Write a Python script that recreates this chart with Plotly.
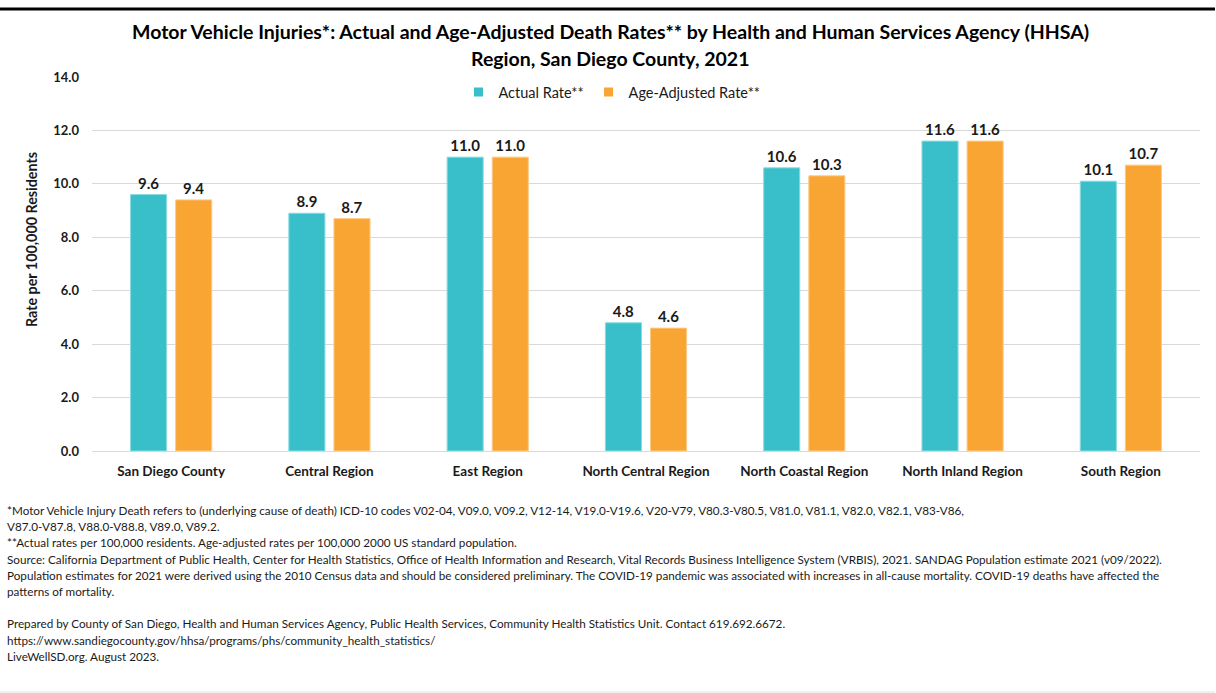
import plotly.graph_objects as go

# Regions and rates (per 100,000)
regions = ["San Diego County", "Central Region", "East Region", "North Central Region",
           "North Coastal Region", "North Inland Region", "South Region"]
actual_rate = [9.6, 8.9, 11.0, 4.8, 10.6, 11.6, 10.1]
age_adjusted_rate = [9.4, 8.7, 11.0, 4.6, 10.3, 11.6, 10.7]
y_ticks = [0, 2, 4, 6, 8, 10, 12, 14]
series_names = ["Actual Rate**", "Age-Adjusted Rate**"]

title_lines = [
    "Motor Vehicle Injuries*: Actual and Age-Adjusted Death Rates** by Health and Human Services Agency (HHSA)",
    "Region, San Diego County, 2021",
]
footnotes = [
    "*Motor Vehicle Injury Death refers to (underlying cause of death) ICD-10 codes V02-04, V09.0, V09.2, V12-14, V19.0-V19.6, V20-V79, V80.3-V80.5, V81.0, V81.1, V82.0, V82.1, V83-V86,",
    "V87.0-V87.8, V88.0-V88.8, V89.0, V89.2.",
    "**Actual rates per 100,000 residents. Age-adjusted rates per 100,000 2000 US standard population.",
    "Source: California Department of Public Health, Center for Health Statistics, Office of Health Information and Research, Vital Records Business Intelligence System (VRBIS), 2021. SANDAG Population estimate 2021 (v09/2022).",
    "Population estimates for 2021 were derived using the 2010 Census data and should be considered preliminary. The COVID-19 pandemic was associated with increases in all-cause mortality. COVID-19 deaths have affected the",
    "patterns of mortality.",
    "",
    "Prepared by County of San Diego, Health and Human Services Agency, Public Health Services, Community Health Statistics Unit. Contact 619.692.6672.",
    "https://www.sandiegocounty.gov/hhsa/programs/phs/community_health_statistics/",
    "LiveWellSD.org. August 2023.",
]

W, H = 1216, 693
L, R, T, B = 92, 16, 77, 242
PW, PH = W - L - R, H - T - B
FONT = "Lato, 'Open Sans', sans-serif"
TEAL = "#38BFC9"
ORANGE = "#F9A533"
TEXT = "#1a1a1a"


def px(x):
    return (x - L) / PW


def py(y):
    return (H - B - y) / PH


fig = go.Figure()
for name, values, color, edge in [
    (series_names[0], actual_rate, TEAL, "#8ADBE0"),
    (series_names[1], age_adjusted_rate, ORANGE, "#FCCB87"),
]:
    fig.add_trace(go.Bar(
        name=name, x=regions, y=values, showlegend=False,
        marker=dict(color=color, line=dict(color=edge, width=1)),
        texttemplate="%{y:.1f}", textposition="outside",
        textfont=dict(family=FONT, size=15, color=TEXT, weight="bold"),
        cliponaxis=False,
    ))

# Square legend swatches
for name, color in zip(series_names, [TEAL, ORANGE]):
    fig.add_trace(go.Scatter(
        name=name, x=[None], y=[None], mode="markers",
        marker=dict(symbol="square", size=9, color=color),
    ))

annotations = []
for i, line in enumerate(title_lines):
    annotations.append(dict(
        text="<b>" + line + "</b>", x=px(610), y=py(32 + 26 * i), xref="paper", yref="paper",
        xanchor="center", yanchor="middle", showarrow=False,
        font=dict(family=FONT, size=19.5, color="#000000"),
    ))
annotations.append(dict(
    text="<b>Rate per 100,000 Residents</b>", x=px(31), y=py(240), xref="paper", yref="paper",
    xanchor="center", yanchor="middle", textangle=-90, showarrow=False,
    font=dict(family=FONT, size=14.3, color=TEXT),
))
for i, line in enumerate(footnotes):
    if not line:
        continue
    annotations.append(dict(
        text=line, x=px(5), y=py(510 + 16.2 * i), xref="paper", yref="paper",
        xanchor="left", yanchor="middle", showarrow=False, align="left",
        font=dict(family=FONT, size=11.7, color=TEXT),
    ))

shapes = [
    dict(type="line", xref="paper", yref="paper", x0=px(0), x1=px(1215), y0=py(9), y1=py(9),
         line=dict(color="#000000", width=3)),
    dict(type="line", xref="paper", yref="paper", x0=px(0), x1=px(1215), y0=py(692), y1=py(692),
         line=dict(color="#E3E3E3", width=1)),
]

fig.update_layout(
    width=W, height=H,
    margin=dict(l=L, r=R, t=T, b=B),
    paper_bgcolor="white", plot_bgcolor="white",
    barmode="group", bargap=0.43, bargroupgap=0.2,
    font=dict(family=FONT, color=TEXT),
    showlegend=True,
    legend=dict(orientation="h", x=px(612), y=py(92), xanchor="center", yanchor="middle",
                font=dict(family=FONT, size=14.5, color=TEXT), traceorder="normal",
                itemwidth=30, bgcolor="rgba(0,0,0,0)"),
    xaxis=dict(showline=False, ticks="", showgrid=False, ticklabelstandoff=10,
               tickfont=dict(family=FONT, size=13.5, color=TEXT, weight="bold")),
    yaxis=dict(range=[0, 14], tickvals=y_ticks, tickformat=".1f",
               showgrid=True, gridcolor="#D9D9D9", gridwidth=1,
               zeroline=True, zerolinecolor="#D9D9D9", zerolinewidth=1,
               showline=False, ticks="", ticklabelstandoff=12,
               tickfont=dict(family=FONT, size=13, color=TEXT, weight="bold")),
    annotations=annotations,
    shapes=shapes,
)

fig.write_html("out.html")
